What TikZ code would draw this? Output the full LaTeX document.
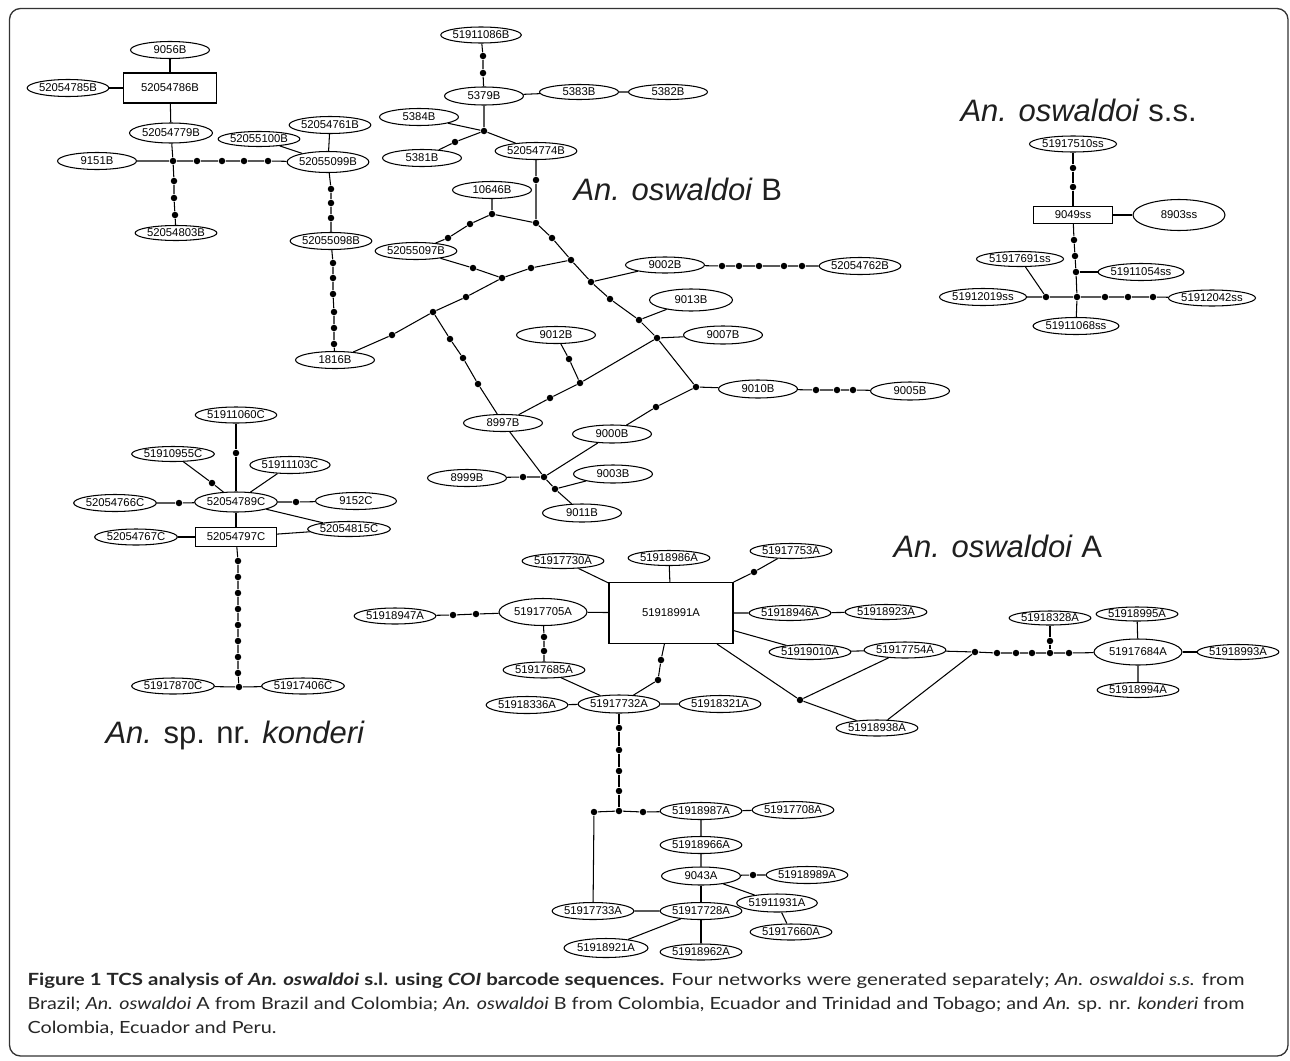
\documentclass[tikz,border=0pt]{standalone}
\usepackage{fontspec}
\usepackage{graphicx}
\setmainfont{Liberation Sans}
\newfontfamily\capfam{Lato}
\usetikzlibrary{shapes.geometric}
\newlength\capwd
\newcommand\capfnt{\capfam\fontsize{16.8}{20}\selectfont\color{black!85}}
\newcommand\capone{\textbf{Figure 1 TCS analysis of \textit{An. oswaldoi} s.l. using \textit{COI} barcode sequences.} Four networks were generated separately; \textit{An. oswaldoi s.s.} from}
\newcommand\captwo{Brazil; \textit{An. oswaldoi} A from Brazil and Colombia; \textit{An. oswaldoi} B from Colombia, Ecuador and Trinidad and Tobago; and \textit{An.} sp. nr. \textit{konderi} from}
\newcommand\capthree{Colombia, Ecuador and Peru.}
\begin{document}
\settowidth\capwd{\capfnt\captwo}%
\pgfmathsetmacro\capsx{1217/\capwd}%
\begin{tikzpicture}[x=1pt,y=-1pt,line width=1.05pt,
  el/.style={draw, ellipse, minimum width=79pt, minimum height=17pt, inner sep=0pt, font=\fontsize{11.3}{12}\selectfont},
  bx/.style={draw, rectangle, inner sep=0pt, font=\fontsize{11.3}{12}\selectfont},
  md/.style={circle, fill, inner sep=0pt, minimum size=6.5pt},
  ttl/.style={anchor=base west, inner sep=0pt, font=\fontsize{31}{36}\selectfont, text=black!88}]
\useasboundingbox (0,0) rectangle (1290,1060);
\draw[black!80, line width=1.3pt, rounded corners=11pt] (9.5,8.5) rectangle (1288,1056);

% ---------------- An. oswaldoi B (left part)
\node[el] (b9056) at (170,50) {9056B};
\node[bx, minimum width=93pt, minimum height=30pt] (b786) at (170,88) {52054786B};
\node[el] (b785) at (68,88) {52054785B};
\node[el, minimum width=83pt, minimum height=20pt] (b779) at (171,133) {52054779B};
\node[el] (b9151) at (97,161) {9151B};
\node[md] (j1) at (173,161) {};
\node[md] (j1a) at (197,161) {};
\node[md] (j1b) at (222,161) {};
\node[md] (j1c) at (244,161) {};
\node[md] (j1d) at (268,161) {};
\node[el, minimum width=74pt, minimum height=21pt] (b099) at (328,162) {52055099B};
\node[el] (b761) at (330,125) {52054761B};
\node[el, minimum height=15pt] (b100) at (259,139) {52055100B};
\node[md] (j1e) at (174,181) {};
\node[md] (j1f) at (174,198) {};
\node[md] (j1g) at (175,215) {};
\node[el, minimum height=15pt] (b803) at (176,233) {52054803B};
\node[md] (k1) at (331,189) {};
\node[md] (k2) at (331,203) {};
\node[md] (k3) at (331,218) {};
\node[el] (b098) at (331,241) {52055098B};
\node[md] (m1) at (333,263) {};
\node[md] (m2) at (333,278) {};
\node[md] (m3) at (333,294) {};
\node[md] (m4) at (334,312) {};
\node[md] (m5) at (334,328) {};
\node[md] (m6) at (334,344) {};
\node[el] (b1816) at (335,360) {1816B};

\draw (b9056) -- (b786);
\draw (b785) -- (b786);
\draw (b786) -- (b779) -- (j1);
\draw (b9151) -- (j1) -- (j1a) -- (j1b) -- (j1c) -- (j1d) -- (b099);
\draw (b761) -- (b099);
\draw (b100) -- (b099);
\draw (j1) -- (j1e) -- (j1f) -- (j1g) -- (b803);
\draw (b099) -- (k1) -- (k2) -- (k3) -- (b098) -- (m1) -- (m2) -- (m3) -- (m4) -- (m5) -- (m6) -- (b1816);

% ---------------- An. oswaldoi B (main part)
\node[el, minimum height=16pt] (b086) at (481,35) {51911086B};
\node[md] (t1) at (483,56) {};
\node[md] (t2) at (483,73) {};
\node[el, minimum height=18pt] (b5379) at (484,96) {5379B};
\node[el, minimum height=15pt] (b5383) at (579,92) {5383B};
\node[el, minimum height=15pt] (b5382) at (668,92) {5382B};
\node[md] (j2) at (484,131) {};
\node[el] (b5384) at (419,117) {5384B};
\node[el] (b5381) at (422,158) {5381B};
\node[md] (t3) at (455,142) {};
\node[el] (b774) at (536,151) {52054774B};
\node[md] (t4) at (536,180) {};
\node[md] (j4) at (536,223) {};
\node[el] (b10646) at (492,190) {10646B};
\node[md] (j3) at (492,214) {};
\node[md] (t5) at (470,224) {};
\node[md] (t6) at (448,238) {};
\node[el] (b097) at (416,251) {52055097B};
\node[md] (t7) at (552,238) {};
\node[md] (j5) at (571,260) {};
\node[md] (j6) at (591,282) {};
\node[md] (t8) at (610,299) {};
\node[md] (j7) at (639,320) {};
\node[md] (j8) at (657,338) {};
\node[md] (j9) at (696,387) {};
\node[md] (t9) at (473,268) {};
\node[md] (j10) at (502,278) {};
\node[md] (t10) at (531,268) {};
\node[md] (t11) at (466,297) {};
\node[md] (j11) at (433,312) {};
\node[md] (t12) at (392,335) {};
\node[md] (t13) at (450,339) {};
\node[md] (t14) at (463,358) {};
\node[md] (t15) at (478,384) {};
\node[el] (b8997) at (503,423) {8997B};
\node[el, minimum height=16pt] (b9002) at (665,265) {9002B};
\node[md] (u1) at (722,266) {};
\node[md] (u2) at (739,266) {};
\node[md] (u3) at (759,266) {};
\node[md] (u4) at (784,266) {};
\node[md] (u5) at (802,266) {};
\node[el] (b762) at (860,266) {52054762B};
\node[el, minimum width=83pt, minimum height=22pt] (b9013) at (691,300) {9013B};
\node[el, minimum height=18pt] (b9007) at (723,335) {9007B};
\node[el] (b9012) at (556,335) {9012B};
\node[md] (t16) at (569,359) {};
\node[md] (j12) at (580,383) {};
\node[md] (t17) at (550,398) {};
\node[el, minimum height=18pt] (b9010) at (758,389) {9010B};
\node[md] (v1) at (816,390) {};
\node[md] (v2) at (837,390) {};
\node[md] (v3) at (853,390) {};
\node[el, minimum height=18pt] (b9005) at (910,391) {9005B};
\node[md] (t18) at (656,407) {};
\node[el, minimum height=18pt] (b9000) at (612,434) {9000B};
\node[md] (j13) at (544,477) {};
\node[md] (j14) at (555,489) {};
\node[el] (b8999) at (467,478) {8999B};
\node[md] (t19) at (523,477) {};
\node[el, minimum height=18pt] (b9003) at (613,474) {9003B};
\node[el, minimum height=18pt] (b9011) at (582,513) {9011B};

\draw (b086) -- (t1) -- (t2) -- (b5379) -- (j2);
\draw (b5379) -- (b5383) -- (b5382);
\draw (b5384) -- (j2);
\draw (b5381) -- (t3) -- (j2);
\draw (j2) -- (b774) -- (t4) -- (j4);
\draw (b10646) -- (j3) -- (j4);
\draw (j3) -- (t5) -- (t6) -- (b097);
\draw (j4) -- (t7) -- (j5) -- (j6) -- (t8) -- (j7) -- (j8) -- (j9);
\draw (b097) -- (t9) -- (j10) -- (t10) -- (j5);
\draw (j10) -- (t11) -- (j11) -- (t12) -- (b1816);
\draw (j11) -- (t13) -- (t14) -- (t15) -- (b8997);
\draw (j6) -- (b9002) -- (u1) -- (u2) -- (u3) -- (u4) -- (u5) -- (b762);
\draw (j7) -- (b9013);
\draw (j8) -- (b9007);
\draw (b9012) -- (t16) -- (j12) -- (j8);
\draw (j12) -- (t17) -- (b8997);
\draw (j9) -- (b9010) -- (v1) -- (v2) -- (v3) -- (b9005);
\draw (j9) -- (t18) -- (b9000) -- (j13);
\draw (b8997) -- (j13) -- (j14) -- (b9011);
\draw (b8999) -- (t19) -- (j13);
\draw (j14) -- (b9003);

% ---------------- An. oswaldoi s.s.
\node[el, minimum height=16pt] (s510) at (1073,144) {51917510ss};
\node[md] (w1) at (1073,168) {};
\node[md] (w2) at (1073,187) {};
\node[bx, minimum width=79pt, minimum height=17pt] (s049) at (1073,215) {9049ss};
\node[el, minimum width=92pt, minimum height=31pt] (s903) at (1179,215) {8903ss};
\node[md] (w3) at (1074,240) {};
\node[md] (w4) at (1075,256) {};
\node[md] (w5) at (1076,272) {};
\node[el, minimum width=84pt] (s054) at (1141,272) {51911054ss};
\node[md] (w6) at (1077,297) {};
\node[el] (s068) at (1076,326) {51911068ss};
\node[md] (w7) at (1046,297) {};
\node[el] (s019) at (983,297) {51912019ss};
\node[el, minimum height=15pt] (s691) at (1020,259) {51917691ss};
\node[md] (w8) at (1105,297) {};
\node[md] (w9) at (1128,297) {};
\node[md] (w10) at (1153,297) {};
\node[el, minimum height=16pt] (s042) at (1212,298) {51912042ss};

\draw (s510) -- (w1) -- (w2) -- (s049) -- (s903);
\draw (s049) -- (w3) -- (w4) -- (w5) -- (w6) -- (s068);
\draw (w5) -- (s054);
\draw (s019) -- (w7) -- (w6) -- (w8) -- (w9) -- (w10) -- (s042);
\draw (s691) -- (w7);

% ---------------- An. sp. nr. konderi
\node[el, minimum height=16pt] (c060) at (236,415) {51911060C};
\node[md] (x1) at (236,453) {};
\node[el, minimum width=81pt, minimum height=20pt] (c789) at (236,502) {52054789C};
\node[el, minimum width=81pt, minimum height=15pt] (c955) at (173,454) {51910955C};
\node[md] (x2) at (212,483) {};
\node[el] (c103) at (290,465) {51911103C};
\node[el, minimum width=82pt] (c766) at (115,503) {52054766C};
\node[md] (x3) at (179,503) {};
\node[el, minimum width=81pt] (c152) at (356,501) {9152C};
\node[md] (x4) at (296,502) {};
\node[el, minimum width=80pt, minimum height=15pt] (c815) at (349,529) {52054815C};
\node[bx, minimum width=81pt, minimum height=19pt] (c797) at (236,537) {52054797C};
\node[el, minimum width=80pt, minimum height=16pt] (c767) at (136,537) {52054767C};
\foreach \yy [count=\i] in {561,577,593,609,625,641,657,673}
  \node[md] (y\i) at (238,\yy) {};
\node[md] (j16) at (239,687) {};
\node[el, minimum width=80pt, minimum height=16pt] (c870) at (173,686) {51917870C};
\node[el, minimum width=80pt, minimum height=16pt] (c406) at (303,686) {51917406C};

\draw (c060) -- (x1) -- (c789);
\draw (c955) -- (x2) -- (c789);
\draw (c103) -- (c789);
\draw (c766) -- (x3) -- (c789) -- (x4) -- (c152);
\draw (c789) -- (c815);
\draw (c797) -- (c815);
\draw (c789) -- (c797);
\draw (c767) -- (c797);
\draw (c797) -- (y1) -- (y2) -- (y3) -- (y4) -- (y5) -- (y6) -- (y7) -- (y8) -- (j16);
\draw (c870) -- (j16) -- (c406);

% ---------------- An. oswaldoi A
\node[el, minimum height=15pt] (a730) at (563,561) {51917730A};
\node[el, minimum height=15pt] (a986) at (669,558) {51918986A};
\node[bx, minimum width=124pt, minimum height=61pt] (a991) at (671,613) {51918991A};
\node[el, minimum width=80pt, minimum height=15pt] (a753) at (791,551) {51917753A};
\node[md] (p1) at (754,572) {};
\node[el, minimum width=88pt, minimum height=27pt] (a705) at (543,612) {51917705A};
\node[el, minimum height=16pt] (a947) at (395,616) {51918947A};
\node[md] (p2) at (453,615) {};
\node[md] (p3) at (476,614) {};
\node[md] (p4) at (544,637) {};
\node[md] (p5) at (544,651) {};
\node[el, minimum height=16pt] (a685) at (544,670) {51917685A};
\node[el, minimum height=18pt] (a732) at (619,704) {51917732A};
\node[md] (p6) at (661,660) {};
\node[md] (p7) at (658,680) {};
\node[el] (a336) at (527,705) {51918336A};
\node[el] (a321) at (720,704) {51918321A};
\node[el, minimum height=15pt] (a946) at (790,613) {51918946A};
\node[el, minimum height=15pt] (a923) at (886,612) {51918923A};
\node[el, minimum height=15pt] (a010) at (810,652) {51919010A};
\node[el, minimum height=16pt] (a754) at (905,650) {51917754A};
\node[md] (j17) at (800,700) {};
\node[el, minimum width=80pt, minimum height=16pt] (a938) at (877,728) {51918938A};
\node[md] (j18) at (975,652) {};
\node[md] (q1) at (997,653) {};
\node[md] (q2) at (1016,653) {};
\node[md] (q3) at (1032,653) {};
\node[md] (q4) at (1050,653) {};
\node[md] (q5) at (1069,653) {};
\node[md] (q6) at (1050,641) {};
\node[el, minimum height=14pt] (a328) at (1050,618) {51918328A};
\node[el, minimum width=88pt, minimum height=26pt] (a684) at (1138,652) {51917684A};
\node[el, minimum width=80pt, minimum height=14pt] (a995) at (1137,614) {51918995A};
\node[el, minimum height=15pt] (a994) at (1138,690) {51918994A};
\node[el, minimum height=15pt] (a993) at (1238,652) {51918993A};
\foreach \yy [count=\i] in {728,750,771,791}
  \node[md] (r\i) at (619,\yy) {};
\node[md] (j19) at (619,811) {};
\node[md] (j20) at (594,812) {};
\node[md] (r5) at (643,812) {};
\node[el] (a987) at (701,811) {51918987A};
\node[el] (a708) at (793,810) {51917708A};
\node[el] (a966) at (701,845) {51918966A};
\node[el, minimum height=18pt] (a043) at (701,876) {9043A};
\node[md] (r6) at (753,875) {};
\node[el] (a989) at (807,875) {51918989A};
\node[el, minimum height=18pt] (a931) at (777,903) {51911931A};
\node[el, minimum height=16pt] (a660) at (791,932) {51917660A};
\node[el] (a728) at (701,911) {51917728A};
\node[el] (a733) at (593,911) {51917733A};
\node[el, minimum width=84pt, minimum height=19pt] (a921) at (606,948) {51918921A};
\node[el, minimum height=16pt] (a962) at (701,952) {51918962A};

\draw (a730) -- (a991);
\draw (a986) -- (a991);
\draw (a991) -- (p1) -- (a753);
\draw (a991) -- (a705) -- (p3) -- (p2) -- (a947);
\draw (a705) -- (p4) -- (p5) -- (a685) -- (a732);
\draw (a991) -- (p6) -- (p7) -- (a732);
\draw (a336) -- (a732) -- (a321);
\draw (a991) -- (a946) -- (a923);
\draw (a991) -- (a010) -- (a754);
\draw (a991) -- (j17) -- (a754);
\draw (j17) -- (a938) -- (j18);
\draw (a754) -- (j18) -- (q1) -- (q2) -- (q3) -- (q4) -- (q5) -- (a684);
\draw (a328) -- (q6) -- (q4);
\draw (a995) -- (a684) -- (a994);
\draw (a684) -- (a993);
\draw (a732) -- (r1) -- (r2) -- (r3) -- (r4) -- (j19);
\draw (j20) -- (j19) -- (r5) -- (a987) -- (a708);
\draw (j20) -- (a733) -- (a728);
\draw (a987) -- (a966) -- (a043) -- (r6) -- (a989);
\draw (a043) -- (a931) -- (a660);
\draw (a043) -- (a728);
\draw (a728) -- (a921);
\draw (a728) -- (a962);

% ---------------- titles
\node[ttl] (tss) at (960,121) {\textit{An. oswaldoi} s.s.};
\node[ttl] (tB) at (573,200) {\textit{An. oswaldoi} B};
\node[ttl] (tA) at (893,557) {\textit{An. oswaldoi} A};
\node[ttl] (tC) at (105,743) {\textit{An.} sp. nr. \textit{konderi}};

% ---------------- caption
\node[anchor=base west, inner sep=0pt] (cap1) at (27,985) {\capfnt\resizebox{1217pt}{\height}{\capone}};
\node[anchor=base west, inner sep=0pt] (cap2) at (27,1009) {\capfnt\scalebox{\capsx}[1]{\captwo}};
\node[anchor=base west, inner sep=0pt] (cap3) at (27,1033) {\capfnt\scalebox{\capsx}[1]{\capthree}};
\end{tikzpicture}
\end{document}
